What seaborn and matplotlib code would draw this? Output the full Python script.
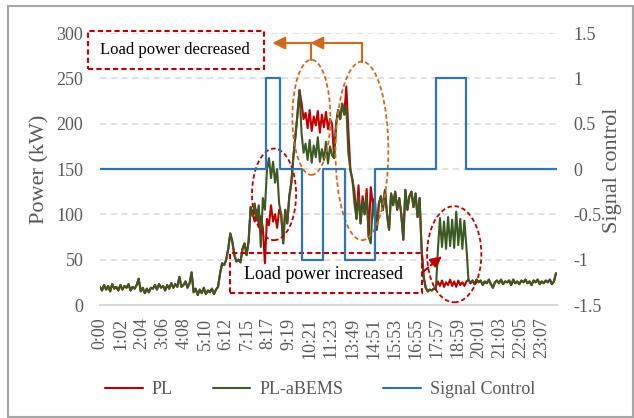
import numpy as np
import pandas as pd
import matplotlib
matplotlib.use("Agg")
import matplotlib.pyplot as plt
import seaborn as sns
from matplotlib.patches import Rectangle, Ellipse
from matplotlib.lines import Line2D

# x axis: one reading every 6 samples, tick label every 62 samples
time_labels = ["0:00", "1:02", "2:04", "3:06", "4:08", "5:10", "6:12", "7:15",
               "8:17", "9:19", "10:21", "11:23", "13:49", "14:51", "15:53",
               "16:55", "17:57", "18:59", "20:01", "21:03", "22:05", "23:07"]
step = 6
label_every = 62

# PL-aBEMS (kW)
pl_abems = (
    [20, 16, 22, 17, 21, 15, 23, 18, 20, 16, 22, 17, 21, 19, 23, 16, 20, 18, 22, 29]
    + [15, 19, 13, 18, 14]
    + [19, 18, 22, 17, 23, 19, 21, 16, 22, 18, 24, 19, 23, 20]
    + [31, 20, 22, 26, 19, 24, 36]
    + [14, 18, 11, 17, 13, 19, 12, 16, 14, 18, 12, 17]
    + [20, 35, 46, 44, 50, 62, 79, 70, 55, 48, 50, 47, 62, 68, 55, 70]
    + [108, 98, 112, 95, 110, 64, 118, 105, 149, 162, 140, 158, 135, 150, 112,
       100, 68, 105, 90, 120, 135, 164, 186, 210, 237, 190, 168]
    + [178, 160, 182, 157, 176, 163, 185, 158, 172, 160, 180, 156, 175, 165]
    + [162, 200, 215, 205, 222, 210, 218, 168, 149, 138, 112, 95, 120, 90, 115,
       100, 120, 75, 68, 112, 95, 83, 112, 120, 105, 127, 100, 83, 123, 110,
       125, 105, 118, 100, 72, 127, 105, 120, 125, 108, 123, 97, 118]
    + [61, 31, 19, 15, 17, 16, 18, 17, 61]
    + [96, 64, 92, 62, 97, 65, 94, 63, 103, 66, 95, 62, 93, 64]
    + [28, 24, 27, 23, 28, 25, 27, 22, 26, 24, 28, 23, 19, 25, 27, 24, 28, 23,
       26, 25, 27, 22, 28, 24, 26, 23, 27, 25, 28, 24, 26, 22, 27, 25, 28, 23,
       26, 24, 27, 25, 28, 23, 26, 35]
)

# PL follows PL-aBEMS except in these stretches (start reading -> values)
pl_morning = [100, 92, 105, 88, 98, 85, 46, 95, 88, 110, 92, 100, 85, 105]
pl_noon = [223, 205, 212, 195, 215, 192, 208, 198, 214, 190, 210, 196, 213, 194, 205, 200]
pl_afternoon = [241, 193, 149, 138, 125, 95, 132, 90, 120, 100, 128, 75, 130, 112, 118]
pl_evening = [20, 26, 21, 27, 20, 25, 22, 28, 21, 26, 20, 27, 22, 25, 21, 26]

pl = list(pl_abems)
for start, seg in [(75, pl_morning), (99, pl_noon), (121, pl_afternoon), (165, pl_evening)]:
    pl[start:start + len(seg)] = seg

# signal control (step changes)
signal_idx = [0, 489, 531, 595, 657, 722, 812, 991, 1078, 1347]
signal_val = [0, 1, 0, -1, 0, -1, 0, 1, 0, 0]

red = "#C00000"
green = "#3B5A23"
blue = "#2E75B6"
orange = "#D2691E"
gray = "#595959"

sns.set_theme(style="white")
plt.rcParams["font.family"] = ["Liberation Serif", "DejaVu Serif"]

df = pd.DataFrame({"idx": np.arange(len(pl_abems)) * step,
                   "PL": pl, "PL-aBEMS": pl_abems})
sig = pd.DataFrame({"idx": signal_idx, "signal": signal_val})

fig = plt.figure(figsize=(6.34, 4.18), dpi=100)
ax = fig.add_axes([100 / 634, 1 - 305 / 418, 457 / 634, 272 / 418])
ax2 = ax.twinx()

for y in range(50, 301, 50):
    ax.axhline(y, color="#D9D9D9", ls=(0, (4, 3)), lw=1.1, zorder=0)

sns.lineplot(data=df, x="idx", y="PL", ax=ax, color=red, lw=1.5, sort=False, errorbar=None)
sns.lineplot(data=df, x="idx", y="PL-aBEMS", ax=ax, color=green, lw=1.5, sort=False, errorbar=None)
sns.lineplot(data=sig, x="idx", y="signal", ax=ax2, color=blue, lw=1.6, sort=False,
             errorbar=None, drawstyle="steps-post")

ax.set_xlim(0, 1347)
ax.set_ylim(0, 300)
ax.set_yticks(range(0, 301, 50))
ax.set_xticks([label_every * i for i in range(len(time_labels))])
ax.set_xticklabels(time_labels, rotation=90)
ax2.set_ylim(-1.5, 1.5)
ax2.set_yticks([-1.5, -1, -0.5, 0, 0.5, 1, 1.5])
ax2.set_yticklabels(["-1.5", "-1", "-0.5", "0", "0.5", "1", "1.5"])

for a in (ax, ax2):
    a.set_xlabel("")
    a.set_ylabel("")
    for s in a.spines.values():
        s.set_visible(False)
ax.spines["bottom"].set_visible(True)
ax.spines["bottom"].set_color("#D9D9D9")
ax.spines["bottom"].set_linewidth(1.5)
ax.tick_params(axis="y", length=0, pad=12, labelsize=13, labelcolor=gray)
ax.tick_params(axis="x", length=0, pad=9, labelsize=13, labelcolor=gray)
ax2.tick_params(axis="y", length=0, pad=12, labelsize=13, labelcolor=gray)

fig.text(40 / 634, 1 - 169 / 418, "Power (kW)", rotation=90, ha="center", va="center",
         fontsize=16, color=gray)
fig.text(613 / 634, 1 - 170 / 418, "Signal control", rotation=90, ha="center", va="center",
         fontsize=16, color=gray)

# annotations, drawn in the power axis coordinates
tr = ax.transData
dash = (0, (2.5, 1.5))
ax2.add_patch(Rectangle((-36, 260), 518, 42, transform=tr, fill=False, ec=red,
                        ls=dash, lw=1.5, clip_on=False))
ax2.text(221, 281, "Load power decreased", transform=tr, ha="center", va="center",
         fontsize=12, color="black")
ax2.add_patch(Rectangle((384, 13), 566, 44, transform=tr, fill=False, ec=red,
                        ls=dash, lw=1.5, clip_on=False))
ax2.text(658, 34, "Load power increased", transform=tr, ha="center", va="center",
         fontsize=13, color="black")

ax2.add_patch(Ellipse((623, 207), 112, 127, transform=tr, fill=False, ec=orange,
                      ls=dash, lw=1.3, clip_on=False))
ax2.add_patch(Ellipse((772, 170), 156, 197, transform=tr, fill=False, ec=orange,
                      ls=dash, lw=1.3, clip_on=False))
ax2.add_patch(Ellipse((513, 122), 130, 101, transform=tr, fill=False, ec=red,
                      ls=dash, lw=1.3, clip_on=False))
ax2.add_patch(Ellipse((1044, 56), 160, 106, transform=tr, fill=False, ec=red,
                      ls=dash, lw=1.3, clip_on=False))

ax2.plot([623, 623], [270, 289], transform=tr, color=orange, lw=1.5, clip_on=False)
ax2.plot([772, 772], [268, 289], transform=tr, color=orange, lw=1.5, clip_on=False)
ax2.annotate("", xy=(508, 289), xytext=(623, 289), xycoords=tr, textcoords=tr,
             arrowprops=dict(arrowstyle="-|>", color=orange, lw=1.5,
                             mutation_scale=19, shrinkA=0, shrinkB=0), annotation_clip=False)
ax2.annotate("", xy=(620, 289), xytext=(772, 289), xycoords=tr, textcoords=tr,
             arrowprops=dict(arrowstyle="-|>", color=orange, lw=1.5,
                             mutation_scale=19, shrinkA=0, shrinkB=0), annotation_clip=False)
ax2.annotate("", xy=(1008, 54), xytext=(950, 36), xycoords=tr, textcoords=tr,
             arrowprops=dict(arrowstyle="-|>", color=red, lw=1.5, ls="--",
                             mutation_scale=17, shrinkA=0, shrinkB=0))

handles = [Line2D([], [], color=red, lw=1.5), Line2D([], [], color=green, lw=1.5),
           Line2D([], [], color=blue, lw=1.5)]
fig.legend(handles, ["PL", "PL-aBEMS", "Signal Control"], loc="center",
           bbox_to_anchor=(0.505, 1 - 390 / 418), ncol=3, frameon=False, fontsize=13,
           handlelength=2.1, handletextpad=0.5, columnspacing=2.2, labelcolor=gray)

fig.add_artist(Rectangle((8 / 634, 1 - 417 / 418), 625 / 634, 411 / 418,
                         transform=fig.transFigure, fill=False, ec="#A6A6A6", lw=1.5))

fig.savefig("out.png", dpi=100)
